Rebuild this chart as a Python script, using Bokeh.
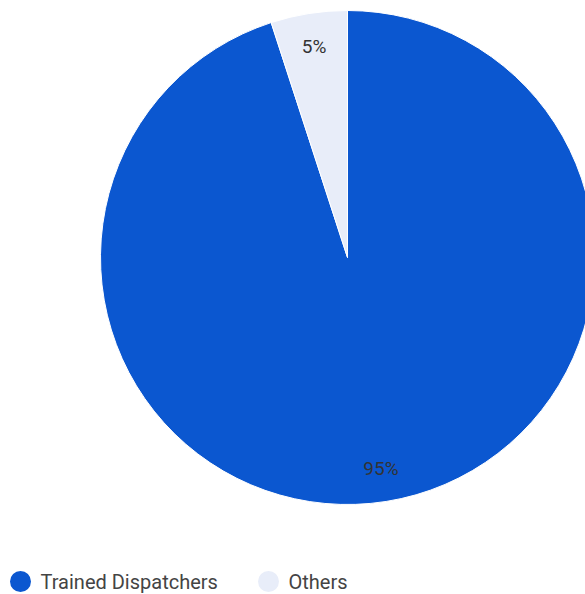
import math
from bokeh.plotting import figure
from bokeh.models import ColumnDataSource, Range1d
from bokeh.core.properties import value
from bokeh.embed import file_html
from bokeh.resources import INLINE

categories = ["Trained Dispatchers", "Others"]
shares = [95, 5]
colors = ["#0b57d0", "#e8edf9"]
labels = ["95%", "5%"]

W, H = 585, 594
cx, cy, R = 347, H - 257, 247
label_r = 214

# clockwise from 12 o'clock
total = sum(shares)
starts, ends, lx, ly = [], [], [], []
a = math.pi / 2
for s in shares:
    sweep = 2 * math.pi * s / total
    start = a
    end = a - sweep
    mid = (start + end) / 2
    starts.append(end)
    ends.append(start)
    lx.append(cx + label_r * math.cos(mid))
    ly.append(cy + label_r * math.sin(mid))
    a = end

src = ColumnDataSource(dict(cat=categories, share=shares, color=colors,
                            start=starts, end=ends, lx=lx, ly=ly, label=labels))

p = figure(width=W, height=H, output_backend="svg", toolbar_location=None,
           x_range=Range1d(0, W), y_range=Range1d(0, H), min_border=0)
p.axis.visible = False
p.grid.visible = False
p.outline_line_color = None
p.background_fill_color = "white"
p.border_fill_color = "white"

p.wedge(x=cx, y=cy, radius=R, start_angle="start", end_angle="end",
        direction="anticlock", fill_color="color", line_color="white",
        line_width=1, source=src)

p.text(x="lx", y="ly", text="label", source=src, text_align="center",
       text_baseline="middle", text_font=value("Roboto"),
       text_font_size="19px", text_color="#333333")

# legend
leg_x = [20, 268]
leg_y = H - 581
leg_src = ColumnDataSource(dict(x=leg_x, y=[leg_y] * 2, tx=[x + 20 for x in leg_x],
                                cat=categories, color=colors))
p.scatter(x="x", y="y", size=21, marker="circle", fill_color="color",
          line_color=None, source=leg_src)
p.text(x="tx", y="y", text="cat", source=leg_src, text_align="left",
       text_baseline="middle", text_font=value("Roboto"),
       text_font_size="20px", text_color="#444444")

open("out.html", "w").write(file_html(p, INLINE))
